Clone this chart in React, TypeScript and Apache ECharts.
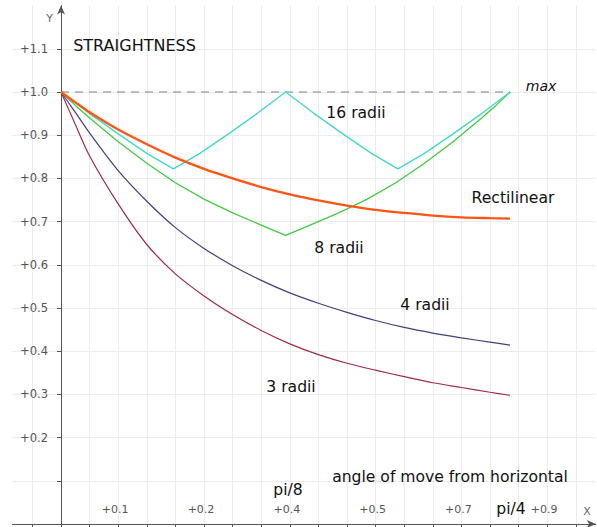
import React, { useEffect, useRef } from "react";
import * as echarts from "echarts";

// angle of move from horizontal (radians)
const angles = [0, 0.025, 0.05, 0.1, 0.15, 0.2, 0.25, 0.3, 0.35, 0.4, 0.45, 0.5, 0.55, 0.6, 0.65, 0.7, 0.75, 0.785];
const rectilinear = [1, 0.976, 0.953, 0.913, 0.879, 0.848, 0.822, 0.8, 0.78, 0.763, 0.749, 0.737, 0.727, 0.72, 0.714, 0.71, 0.708, 0.707];
const radii3 = [1, 0.925, 0.852, 0.741, 0.647, 0.579, 0.528, 0.485, 0.448, 0.417, 0.392, 0.372, 0.356, 0.341, 0.327, 0.316, 0.305, 0.298];
const radii4 = [1, 0.953, 0.905, 0.818, 0.747, 0.686, 0.638, 0.598, 0.564, 0.535, 0.511, 0.49, 0.471, 0.455, 0.442, 0.431, 0.421, 0.414];

const radii8Angles = [0, 0.025, 0.05, 0.1, 0.15, 0.2, 0.25, 0.3, 0.35, 0.3927, 0.4354, 0.4854, 0.5354, 0.5854, 0.6354, 0.6854, 0.7354, 0.7604, 0.7854];
const radii8 = [1, 0.969, 0.94, 0.885, 0.835, 0.79, 0.752, 0.72, 0.692, 0.668, 0.692, 0.72, 0.752, 0.79, 0.835, 0.885, 0.94, 0.969, 1];

const radii16Angles = [0, 0.05, 0.1, 0.15, 0.1963, 0.2427, 0.2927, 0.3427, 0.3927, 0.4427, 0.4927, 0.5427, 0.589, 0.6354, 0.6854, 0.7354, 0.7854];
const radii16 = [1, 0.95, 0.903, 0.858, 0.822, 0.858, 0.903, 0.95, 1, 0.95, 0.903, 0.858, 0.822, 0.858, 0.903, 0.95, 1];

const maxAngles = [0, 0.7854];
const maxValues = [1, 1];

const xTickValues = [-0.05, 0, 0.05, 0.1, 0.15, 0.2, 0.25, 0.3, 0.35, 0.4, 0.45, 0.5, 0.55, 0.6, 0.65, 0.7, 0.75, 0.8, 0.85, 0.9];
const xLabelValues = [0.1, 0.25, 0.4, 0.55, 0.7, 0.85];
const xLabelTexts = ["+0.1", "+0.2", "+0.4", "+0.5", "+0.7", "+0.9"];
const yTickValues = [0.1, 0.2, 0.3, 0.4, 0.5, 0.6, 0.7, 0.8, 0.9, 1.0, 1.1];
const yLabelValues = [0.2, 0.3, 0.4, 0.5, 0.6, 0.7, 0.8, 0.9, 1.0, 1.1];

const zip = (xs: number[], ys: number[]) => xs.map((x, i) => [x, ys[i]]);

const FONT = "DejaVu Sans";
const X_MIN = -0.085;
const X_MAX = 0.935;
const GRID_LEFT = 12.4;
const GRID_RIGHT = 1.2;

export default function App() {
  const ref = useRef<HTMLDivElement>(null);
  useEffect(() => {
    document.body.style.margin = "0";
    if (!ref.current) return;
    const chart = echarts.init(ref.current, null, { renderer: "svg" });
    const plotWidth = 597 - GRID_LEFT - GRID_RIGHT;
    const yAxisOffset = -(((0 - X_MIN) / (X_MAX - X_MIN)) * plotWidth);
    const lineSeries = (name: string, xs: number[], ys: number[], color: string, width: number, extra: any = {}) => ({
      name,
      type: "line",
      data: zip(xs, ys),
      showSymbol: false,
      symbol: "none",
      lineStyle: { color, width },
      ...extra,
    });
    const text = (t: string, x: number, y: number, size: number, extra: any = {}) => ({
      type: "text",
      x,
      y,
      style: {
        text: t,
        fontFamily: FONT,
        fontSize: size,
        fill: "#111",
        textAlign: "center",
        textVerticalAlign: "middle",
        ...extra,
      },
      z: 100,
    });
    chart.setOption({
      animation: false,
      backgroundColor: "#fff",
      grid: { left: GRID_LEFT, right: GRID_RIGHT, top: 5.6, bottom: 3, containLabel: false, outerBoundsMode: "none" },
      xAxis: {
        type: "value",
        min: X_MIN,
        max: X_MAX,
        axisLine: { onZero: true, lineStyle: { color: "#555", width: 1 }, symbol: ["none", "arrow"], symbolSize: [6, 9] },
        axisTick: { show: true, length: 4, customValues: xTickValues, lineStyle: { color: "#555" } },
        axisLabel: {
          show: true,
          inside: true,
          margin: 9,
          padding: [0, 6, 0, 0],
          customValues: xLabelValues,
          color: "#555",
          fontSize: 11,
          fontFamily: FONT,
          formatter: (v: number) => {
            const i = xLabelValues.findIndex((u) => Math.abs(u - v) < 1e-6);
            return i >= 0 ? xLabelTexts[i] : "";
          },
        },
        splitLine: { show: true, lineStyle: { color: "#ececec", width: 1 } },
      },
      yAxis: {
        type: "value",
        min: 0,
        max: 1.2,
        offset: yAxisOffset,
        axisLine: { show: true, onZero: false, lineStyle: { color: "#555", width: 1 }, symbol: ["none", "arrow"], symbolSize: [6, 9] },
        axisTick: { show: true, length: 4, customValues: yTickValues, lineStyle: { color: "#555" } },
        axisLabel: {
          show: true,
          margin: 13,
          customValues: yLabelValues,
          color: "#555",
          fontSize: 11.5,
          fontFamily: FONT,
          formatter: (v: number) => "+" + v.toFixed(1),
        },
        splitLine: { show: true, lineStyle: { color: "#ececec", width: 1 } },
      },
      series: [
        lineSeries("max", maxAngles, maxValues, "#808080", 1.2, { lineStyle: { color: "#808080", width: 1.2, type: [8, 6] } }),
        lineSeries("3 radii", angles, radii3, "#9e2b4a", 1.2, { smooth: 0.3 }),
        lineSeries("4 radii", angles, radii4, "#41417c", 1.2, { smooth: 0.3 }),
        lineSeries("8 radii", radii8Angles, radii8, "#44c944", 1.3),
        lineSeries("16 radii", radii16Angles, radii16, "#3fd9c6", 1.3),
        lineSeries("Rectilinear", angles, rectilinear, "#ff5514", 2.3, { smooth: 0.3 }),
      ],
      graphic: [
        text("STRAIGHTNESS", 134.5, 45, 16),
        text("Y", 49.5, 18, 11, { fill: "#666" }),
        text("X", 587, 511, 11, { fill: "#666" }),
        text("max", 541, 86, 14, { fontStyle: "italic" }),
        text("16 radii", 356, 113, 15.6),
        text("Rectilinear", 513, 198, 15.6),
        text("8 radii", 339, 248, 15.6),
        text("4 radii", 425, 305, 15.6),
        text("3 radii", 291, 387, 15.6),
        text("angle of move from horizontal", 450, 477, 15.6),
        text("pi/8", 288, 490, 15.6),
        text("pi/4", 511, 509, 15.6),
      ],
    });
    return () => chart.dispose();
  }, []);
  return <div ref={ref} style={{ width: 597, height: 527 }} />;
}
